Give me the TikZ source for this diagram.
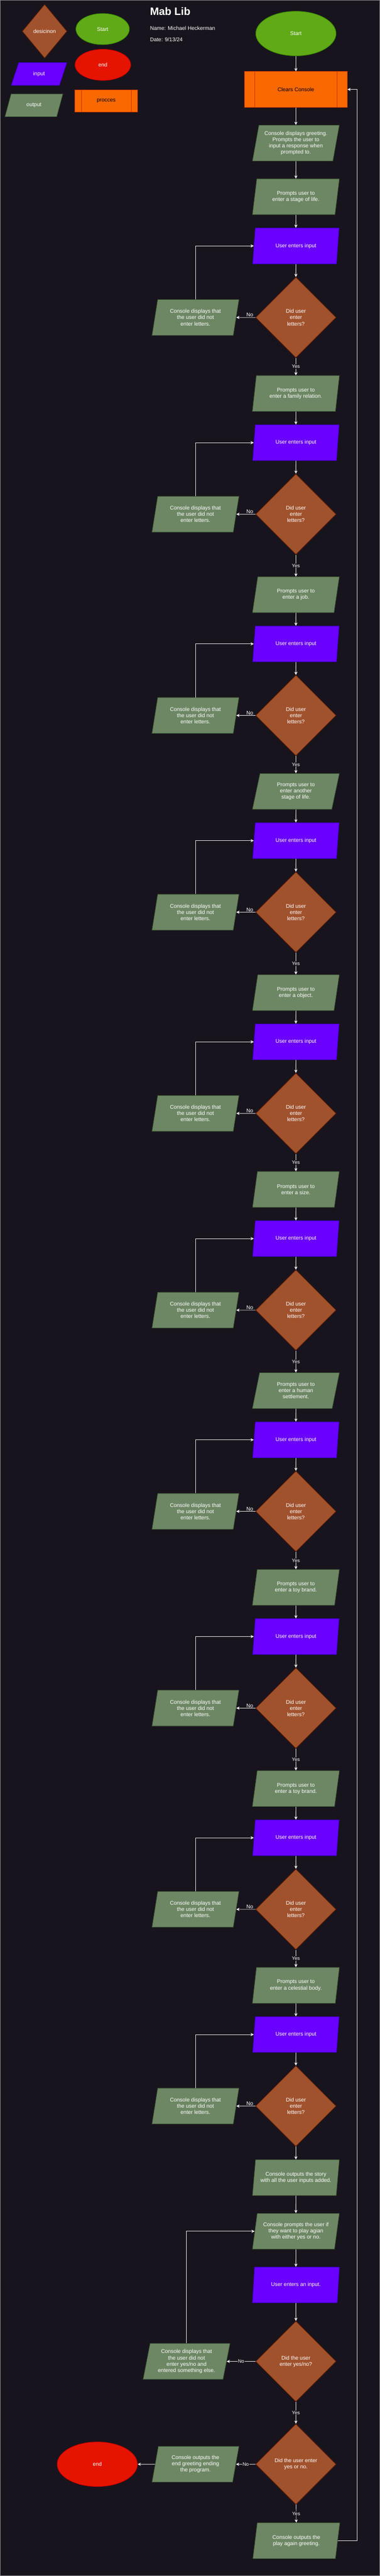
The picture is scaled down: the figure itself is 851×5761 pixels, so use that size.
\documentclass[tikz,border=0pt]{standalone}
\usepackage{fontspec}
\setmainfont{Liberation Sans}
\usetikzlibrary{calc,shapes.geometric,arrows.meta}

\definecolor{bgcol}{HTML}{18141D}
\definecolor{framecol}{HTML}{8A8A90}
\definecolor{edgecol}{HTML}{F0F0F0}
\definecolor{decfill}{HTML}{A0522D}
\definecolor{decline}{HTML}{6D1F00}
\definecolor{startfill}{HTML}{60A917}
\definecolor{startline}{HTML}{2D7600}
\definecolor{endfill}{HTML}{E51400}
\definecolor{endline}{HTML}{B20000}
\definecolor{inpfill}{HTML}{6A00FF}
\definecolor{inpline}{HTML}{3700CC}
\definecolor{outfill}{HTML}{6D8764}
\definecolor{outline}{HTML}{3A5431}
\definecolor{procfill}{HTML}{FA6800}
\definecolor{procline}{HTML}{C73500}

\tikzset{
    every node/.style={font=\fontsize{12}{14}\selectfont, text=white, align=center},
    decide/.style={diamond, draw=decline, fill=decfill, line width=1pt, minimum width=180, minimum height=180, inner sep=0pt},
    startshape/.style={ellipse, draw=startline, fill=startfill, line width=1pt, minimum width=180, minimum height=100},
    endshape/.style={ellipse, draw=endline, fill=endfill, line width=1pt, minimum width=180, minimum height=100},
    parabox/.style={trapezium, trapezium left angle=77.3, trapezium right angle=102.7, trapezium stretches,
        line width=1pt, minimum width=195, minimum height=80, inner sep=1pt},
    inbox/.style={parabox, draw=inpline, fill=inpfill},
    outbox/.style={parabox, draw=outline, fill=outfill},
    procbox/.style={rectangle, draw=procline, fill=procfill, line width=1pt, text=black, minimum width=230, minimum height=80,
        path picture={\draw[procline, line width=1pt]
            ($(path picture bounding box.north west)!0.1!(path picture bounding box.north east)$) --
            ($(path picture bounding box.south west)!0.1!(path picture bounding box.south east)$)
            ($(path picture bounding box.north west)!0.9!(path picture bounding box.north east)$) --
            ($(path picture bounding box.south west)!0.9!(path picture bounding box.south east)$);}},
    flow/.style={draw=edgecol, line width=1pt, -{Stealth[length=7pt, width=7pt, inset=2pt]}},
    lbl/.style={fill=bgcol, inner sep=1pt, font=\fontsize{11}{13}\selectfont}
}

\begin{document}
\begin{tikzpicture}[x=1pt, y=-1pt]
    \useasboundingbox (0,0) rectangle (851,5761);
    \fill[bgcol] (0,0) rectangle (851,5761);
    \draw[framecol, line width=1pt] (0.5,0.5) rectangle (850.5,5760.5);

    % legend
    \node[decide, minimum width=100, minimum height=120, aspect=0.833] (legdec) at (100,70) {desicinon};
    \node[startshape, minimum width=120, minimum height=70] (legstart) at (230,65) {Start};
    \node[endshape, minimum width=125, minimum height=70] (legend) at (230.5,145) {end};
    \node[inbox, minimum width=125, minimum height=51, trapezium left angle=68.6, trapezium right angle=111.4] (leginput) at (87.5,165.5) {input};
    \node[outbox, minimum width=130, minimum height=51, trapezium left angle=68.6, trapezium right angle=111.4] (legoutput) at (76,235.5) {output};
    \node[procbox, minimum width=140, minimum height=50] (legproc) at (238,225.5) {procces};

    \node[anchor=west, inner sep=0pt, font=\bfseries\fontsize{24}{28}\selectfont] (title) at (336,25) {Mab Lib};
    \node[anchor=west, inner sep=0pt] (name) at (336,63) {Name: Michael Heckerman};
    \node[anchor=west, inner sep=0pt] (date) at (336,89) {Date: 9/13/24};

    % main flow
    \node[startshape] (start) at (663,75) {Start};
    \node[procbox] (clear) at (663,200) {Clears Console};
    \node[outbox] (greet) at (663,320) {Console displays greeting.\\ Prompts the user to\\ input a response when\\ prompted to.};
    \draw[flow] (start) -- (clear);
    \draw[flow] (clear) -- (greet);

    \foreach \k/\P/\txt in {1/400/{Prompts user to\\ enter a stage of life.},
                            2/840/{Prompts user to\\ enter a family relation.},
                            3/1290/{Prompts user to\\ enter a job.},
                            4/1730/{Prompts user to\\ enter another\\ stage of life.},
                            5/2180/{Prompts user to\\ enter a object.},
                            6/2620/{Prompts user to\\ enter a size.},
                            7/3070/{Prompts user to\\ enter a human\\ settlement.},
                            8/3510/{Prompts user to\\ enter a toy brand.},
                            9/3960/{Prompts user to\\ enter a toy brand.},
                            10/4400/{Prompts user to\\ enter a celestial body.}}{
        \node[outbox] (prompt\k) at (663,\P+40) {\txt};
        \node[inbox] (input\k) at (663,\P+150) {User enters input};
        \node[decide] (check\k) at (663,\P+310) {Did user\\ enter\\ letters?};
        \node[outbox] (retry\k) at (438,\P+310) {Console displays that\\ the user did not\\ enter letters.};
        \draw[flow] (prompt\k) -- (input\k);
        \draw[flow] (input\k) -- (check\k);
        \draw[flow] (check\k) -- node[pos=0.3, above, inner sep=1pt] {No} (retry\k);
        \draw[flow] (retry\k) |- (input\k);
        \ifnum\k>1
            \pgfmathtruncatemacro\prev{\k-1}
            \draw[flow] (check\prev) -- node[lbl] {Yes} (prompt\k);
        \fi
    }
    \draw[flow] (greet) -- (prompt1);

    \node[outbox] (story) at (663,4870) {Console outputs the story\\ with all the user inputs added.};
    \node[outbox] (again) at (663,4990) {Console prompts the user if\\ they want to play agian\\ with either yes or no.};
    \node[inbox] (answer) at (663,5110) {User enters an input.};
    \node[decide] (valid) at (663,5281) {Did the user\\ enter yes/no?};
    \node[outbox] (wrong) at (418,5281) {Console displays that\\ the user did not\\ enter yes/no and\\ entered something else.};
    \node[decide] (yesno) at (663,5511) {Did the user enter\\ yes or no.};
    \node[outbox] (goodbye) at (438,5511) {Console outputs the\\ end greeting ending\\ the program.};
    \node[endshape] (stop) at (218,5511) {end};
    \node[outbox] (replay) at (664,5682) {Console outputs the\\ play again greeting.};
    \coordinate (back) at (800,200);

    \draw[flow] (check10) -- (story);
    \draw[flow] (story) -- (again);
    \draw[flow] (again) -- (answer);
    \draw[flow] (answer) -- (valid);
    \draw[flow] (valid) -- node[lbl] {No} (wrong);
    \draw[flow] (wrong) |- (again);
    \draw[flow] (valid) -- node[lbl] {Yes} (yesno);
    \draw[flow] (yesno) -- node[lbl] {No} (goodbye);
    \draw[flow] (goodbye) -- (stop);
    \draw[flow] (yesno) -- node[lbl] {Yes} (replay);
    \draw[flow] (replay) -| (back) -- (clear);
\end{tikzpicture}
\end{document}
